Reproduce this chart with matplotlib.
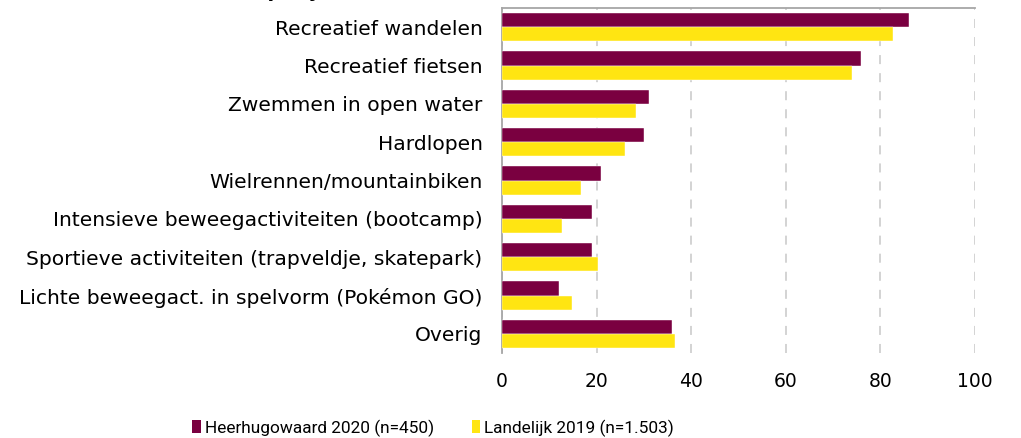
import matplotlib
matplotlib.use("Agg")
import matplotlib.pyplot as plt
from matplotlib.patches import Patch
import numpy as np

categories = [
    "Recreatief wandelen",
    "Recreatief fietsen",
    "Zwemmen in open water",
    "Hardlopen",
    "Wielrennen/mountainbiken",
    "Intensieve beweegactiviteiten (bootcamp)",
    "Sportieve activiteiten (trapveldje, skatepark)",
    "Lichte beweegact. in spelvorm (Pokémon GO)",
    "Overig",
]
heerhugowaard_2020 = [86, 76, 31, 30, 21, 19, 19, 12, 36]
landelijk_2019 = [82.6, 74, 28.3, 26.1, 16.6, 12.7, 20.4, 14.9, 36.5]
series_labels = ["Heerhugowaard 2020 (n=450)", "Landelijk 2019 (n=1.503)"]
xticks = [0, 20, 40, 60, 80, 100]

plt.rcParams['font.family'] = ['DejaVu Sans']

maroon = "#7A0040"
yellow = "#FFE512"

fig = plt.figure(figsize=(10.21, 4.38), dpi=100)
ax = fig.add_axes([502/1021, 1-353/438, (975-502)/1021, (353-8)/438])

y = np.arange(len(categories))
h = 0.37
ax.barh(y - h/2, heerhugowaard_2020, height=h, color=maroon, edgecolor="white", linewidth=0.3, zorder=3)
ax.barh(y + h/2, landelijk_2019, height=h, color=yellow, edgecolor="white", linewidth=0.3, zorder=3)

ax.set_ylim(len(categories) - 0.5, -0.5)
ax.set_xlim(0, 100)
ax.set_yticks(y)
ax.set_yticklabels(categories, fontsize=14.6)
ax.set_xticks(xticks)
ax.set_xticklabels([str(t) for t in xticks], fontsize=13.5)
ax.tick_params(axis='y', length=0, pad=14)
ax.tick_params(axis='x', length=0, pad=14)
ax.xaxis.grid(True, linestyle=(0, (5, 5)), color="#D0D0D0", linewidth=1.3, zorder=0)
for s in ["right", "bottom"]:
    ax.spines[s].set_visible(False)
for s in ["left", "top"]:
    ax.spines[s].set_color("#A6A6A6")
    ax.spines[s].set_linewidth(1.3)

fig.text(362/1021, 1 + 3/438, "Activiteiten in de natuur (per jaar)",
         ha="right", va="baseline", fontsize=14, fontweight="bold")

handles = [Patch(facecolor=maroon), Patch(facecolor=yellow)]
fig.legend(handles, series_labels, loc="center", bbox_to_anchor=(0.424, 1 - 428/438),
           ncol=2, frameon=False, handlelength=0.5, handleheight=0.8,
           handletextpad=0.2, columnspacing=2.2,
           prop={'family': ['Roboto', 'DejaVu Sans'], 'size': 12.4})

fig.savefig("out.png", dpi=100)
